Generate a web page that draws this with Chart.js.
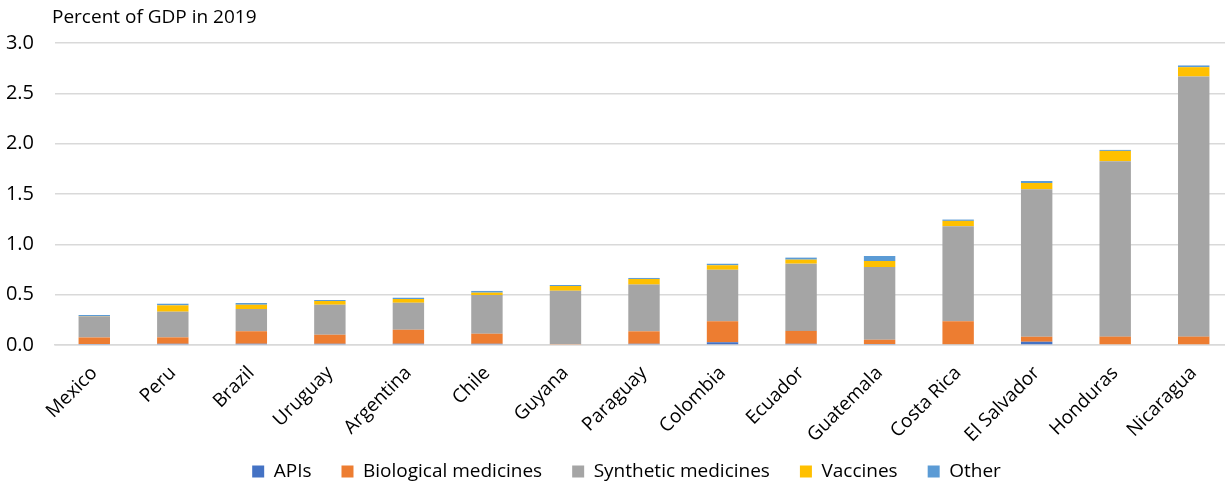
<!DOCTYPE html>
<html>
<head>
<meta charset="utf-8">
<script src="https://cdn.jsdelivr.net/npm/chart.js@4/dist/chart.umd.min.js"></script>
<style>
  html, body { margin: 0; padding: 0; background: #fff; overflow: hidden; }
  #wrap { position: relative; width: 1233px; height: 485px; }
  #unit { position: absolute; left: 52px; top: 3px; font: 19px "Open Sans", sans-serif; color: #000; }
</style>
</head>
<body>
<div id="wrap">
  <div id="unit">Percent of GDP in 2019</div>
  <canvas id="chart-pharma"></canvas>
</div>
<script>
(function () {
  'use strict';

  var countries = ['Mexico', 'Peru', 'Brazil', 'Uruguay', 'Argentina', 'Chile', 'Guyana', 'Paraguay',
    'Colombia', 'Ecuador', 'Guatemala', 'Costa Rica', 'El Salvador', 'Honduras', 'Nicaragua'];

  // imports by product type, percent of GDP
  var apis      = [0.010, 0.012, 0.012, 0.012, 0.012, 0.012, 0.000, 0.012, 0.027, 0.012, 0.010, 0.008, 0.033, 0.000, 0.000];
  var bio       = [0.065, 0.064, 0.124, 0.090, 0.140, 0.100, 0.010, 0.124, 0.210, 0.128, 0.043, 0.228, 0.050, 0.083, 0.083];
  var synthetic = [0.210, 0.255, 0.222, 0.298, 0.268, 0.385, 0.530, 0.464, 0.510, 0.668, 0.722, 0.944, 1.465, 1.743, 2.584];
  var vaccines  = [0.003, 0.063, 0.042, 0.037, 0.037, 0.023, 0.047, 0.056, 0.046, 0.040, 0.060, 0.053, 0.062, 0.102, 0.093];
  var other     = [0.010, 0.016, 0.017, 0.010, 0.013, 0.017, 0.010, 0.010, 0.015, 0.020, 0.050, 0.013, 0.020, 0.010, 0.017];

  var yTicks = [0, 0.5, 1.0, 1.5, 2.0, 2.5, 3.0];

  Chart.defaults.font.family = '"Open Sans", sans-serif';
  Chart.defaults.color = '#000';

  // the wide item padding makes the legend box tall; raise its top edge
  // and move it a little right of the canvas centre
  var legendShift = {
    id: 'legendShift',
    afterLayout: function (chart) {
      var lg = chart.legend;
      if (!lg) return;
      lg.left += 10;
      lg.right += 10;
      lg.top -= 18;
    },
  };

  function series(label, data, color) {
    return {
      label: label,
      data: data,
      backgroundColor: color,
      borderWidth: 0,
      barPercentage: 0.4,
      categoryPercentage: 1.0,
    };
  }

  new Chart(document.getElementById('chart-pharma'), {
    type: 'bar',
    plugins: [legendShift],
    data: {
      labels: countries,
      datasets: [
        series('APIs', apis, '#4472c4'),
        series('Biological medicines', bio, '#ed7d31'),
        series('Synthetic medicines', synthetic, '#a5a5a5'),
        series('Vaccines', vaccines, '#ffc000'),
        series('Other', other, '#5b9bd5'),
      ],
    },
    options: {
      responsive: true,
      maintainAspectRatio: false,
      animation: false,
      layout: { padding: { top: 43, left: 0, right: 0, bottom: 0 } },
      plugins: {
        tooltip: { enabled: false },
        legend: {
          position: 'bottom',
          maxHeight: 35,
          labels: { boxWidth: 12, boxHeight: 12, padding: 30, font: { size: 19 }, color: '#000' },
        },
      },
      scales: {
        x: {
          stacked: true,
          grid: { display: false, drawTicks: false },
          border: { display: true, color: '#d9d9d9', width: 1.5 },
          ticks: { maxRotation: 45, minRotation: 45, padding: 17, font: { size: 19 }, color: '#000' },
          afterFit: function (scale) { scale.height = 105; },
        },
        y: {
          stacked: true,
          min: 0,
          max: 3,
          afterBuildTicks: function (scale) {
            scale.ticks = yTicks.map(function (v) { return { value: v }; });
          },
          grid: { color: '#d9d9d9', lineWidth: 1.5, drawTicks: false },
          border: { display: false },
          ticks: {
            padding: 21,
            font: { size: 20 },
            color: '#000',
            callback: function (v) { return Number(v).toFixed(1); },
          },
          afterFit: function (scale) { scale.width = 55; },
        },
      },
    },
  });
})();
</script>
</body>
</html>
